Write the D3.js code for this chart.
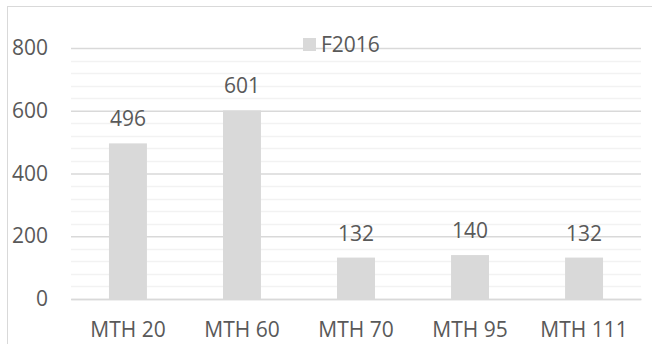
<!DOCTYPE html>
<html>
<head>
<meta charset="utf-8">
<script src="https://cdn.jsdelivr.net/npm/d3@7"></script>
<style>
  body { margin: 0; background: #fff; }
  text { font-family: "Open Sans", sans-serif; fill: #595959; }
</style>
</head>
<body>
<svg id="chart" width="652" height="344"></svg>
<script>
let courses = ["MTH 20", "MTH 60", "MTH 70", "MTH 95", "MTH 111"];
let f2016 = [496, 601, 132, 140, 132];
let yTicks = [0, 200, 400, 600, 800];
let seriesName = "F2016";

let svg = d3.select("#chart");
let width = 652, height = 344;
let margin = {left: 71, right: 11, top: 48, bottom: 45};

// outer chart border
svg.append("rect")
  .attr("x", 7.5).attr("y", 6.5)
  .attr("width", width).attr("height", height)
  .attr("fill", "none").attr("stroke", "#d9d9d9");

let x = d3.scaleBand()
  .domain(courses)
  .range([margin.left, width - margin.right])
  .paddingInner(0.667).paddingOuter(0.333);

let y = d3.scaleLinear()
  .domain([0, 800])
  .range([height - margin.bottom, margin.top]);

// minor gridlines
svg.append("g").selectAll("line")
  .data(d3.range(0, 801, 40).filter(v => v % 200 != 0))
  .join("line")
    .attr("x1", margin.left).attr("x2", width - margin.right)
    .attr("y1", d => Math.round(y(d)) + 0.5).attr("y2", d => Math.round(y(d)) + 0.5)
    .attr("stroke", "#f2f2f2").attr("stroke-width", 1.5);

// major gridlines
let axisY = svg.append("g")
  .attr("transform", `translate(${margin.left},0)`)
  .call(d3.axisLeft(y).tickValues(yTicks).tickSize(-(width - margin.left - margin.right)).tickPadding(23));
axisY.select(".domain").remove();
axisY.selectAll("line").attr("stroke", "#d9d9d9").attr("stroke-width", 1.5);
axisY.selectAll("text").attr("font-size", 21).attr("fill", "#595959");

// bars
svg.append("g").selectAll("rect")
  .data(f2016)
  .join("rect")
    .attr("x", (d, i) => x(courses[i]))
    .attr("y", d => y(d))
    .attr("width", x.bandwidth())
    .attr("height", d => y(0) - y(d))
    .attr("fill", "#d9d9d9");

// data labels
svg.append("g").selectAll("text")
  .data(f2016)
  .join("text")
    .attr("x", (d, i) => x(courses[i]) + x.bandwidth() / 2)
    .attr("y", d => y(d) - 17)
    .attr("text-anchor", "middle")
    .attr("font-size", 21)
    .text(d => d);

// category axis
let axisX = svg.append("g")
  .attr("transform", `translate(0,${y(0)})`)
  .call(d3.axisBottom(x).tickSize(0).tickPadding(23));
axisX.select(".domain").attr("stroke", "#d9d9d9").attr("stroke-width", 1.5);
axisX.selectAll("text").attr("font-size", 21).attr("fill", "#595959");

// legend
let legend = svg.append("g").attr("transform", "translate(303,38)");
legend.append("rect").attr("width", 13).attr("height", 13).attr("fill", "#d9d9d9");
legend.append("text").attr("x", 18).attr("y", 14).attr("font-size", 21).text(seriesName);
</script>
</body>
</html>
